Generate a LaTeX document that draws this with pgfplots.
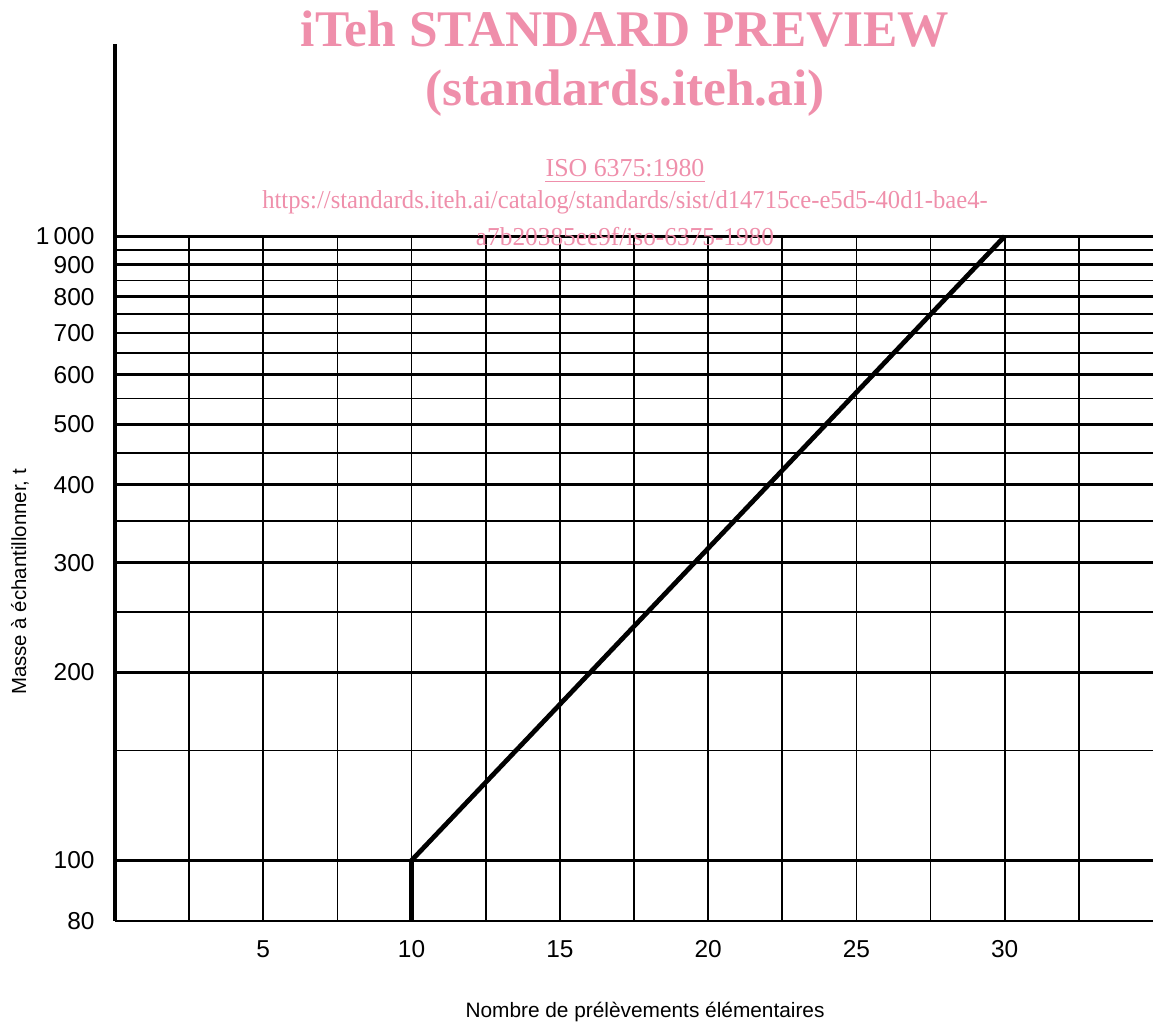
\documentclass[border=0pt]{standalone}
\usepackage{fontspec}
\setmainfont{Liberation Sans}
\newfontfamily\tnr{Liberation Serif}
\usepackage{pgfplots}
\pgfplotsset{compat=1.18}
\definecolor{wmpink}{RGB}{239,143,171}

\begin{document}
\begin{tikzpicture}
\useasboundingbox (-41.40pt,-37.44pt) rectangle (373.65pt,331.5pt);
\begin{axis}[
  at={(0,0)}, anchor=south west,
  scale only axis,
  width=373.65pt, height=315.5pt,
  ymode=log,
  xmin=0, xmax=35, ymin=80, ymax=2030,
  axis x line=bottom, axis y line=left,
  axis line style={-},
  x axis line style={line width=0.7pt},
  y axis line style={line width=1.1pt},
  xtick={5,10,15,20,25,30},
  xticklabels={5,10,15,20,25,30},
  ytick={80,100,200,300,400,500,600,700,800,900,1000},
  yticklabels={80,100,200,300,400,500,600,700,800,900,1\,000},
  major tick length=0pt, minor tick length=0pt,
  tick label style={font=\fontsize{8.8}{10}\selectfont, inner sep=0pt},
  xticklabel style={anchor=base, yshift=-13.3pt},
  yticklabel style={anchor=east, xshift=-7.2pt},
]
% vertical grid, stops at 1000
\pgfplotsinvokeforeach{2.5,5,7.5,10,12.5,15,17.5,20,22.5,25,27.5,30,32.5}{
  \draw[line width=0.65pt] (axis cs:#1,80) -- (axis cs:#1,1000);
}
% horizontal grid
\pgfplotsinvokeforeach{150,250,350,450,550,650,750,850,950}{
  \draw[line width=0.6pt] (axis cs:0,#1) -- (axis cs:35,#1);
}
\pgfplotsinvokeforeach{100,200,300,400,500,600,700,800,900}{
  \draw[line width=1pt] (axis cs:0,#1) -- (axis cs:35,#1);
}
\draw[line width=1.25pt] (axis cs:0,1000) -- (axis cs:35,1000);

\addplot[black, line width=1.7pt, mark=none] coordinates {(10,80) (10,100) (30,1000)};
\end{axis}

\node[rotate=90, font=\fontsize{7.35}{8}\selectfont] at (-34.2pt,122pt) {Masse à échantillonner, t};
\node[anchor=base, font=\fontsize{7.5}{8}\selectfont] at (190.8pt,-34.6pt) {Nombre de prélèvements élémentaires};

% watermark
\begin{scope}[wmpink]
\node[anchor=base, font=\tnr\bfseries\fontsize{18.5}{20}\selectfont] at (183.6pt,314.6pt) {iTeh STANDARD PREVIEW};
\node[anchor=base, font=\tnr\bfseries\fontsize{18.5}{20}\selectfont] at (183.6pt,293.4pt) {(standards.iteh.ai)};
\node[anchor=base, inner sep=0pt, font=\tnr\fontsize{9.3}{10}\selectfont] (iso) at (183.6pt,267.8pt) {ISO 6375:1980};
\draw[line width=0.4pt] ([yshift=-1.8pt]iso.base west) -- ([yshift=-1.8pt]iso.base east);
\node[anchor=base, xscale=0.954, font=\tnr\fontsize{9.3}{10}\selectfont] at (183.6pt,256.3pt) {https://standards.iteh.ai/catalog/standards/sist/d14715ce-e5d5-40d1-bae4-};
\node[anchor=base, xscale=0.98, font=\tnr\fontsize{9.3}{10}\selectfont] at (183.6pt,243.0pt) {a7b20385ee9f/iso-6375-1980};
\end{scope}
\end{tikzpicture}
\end{document}
